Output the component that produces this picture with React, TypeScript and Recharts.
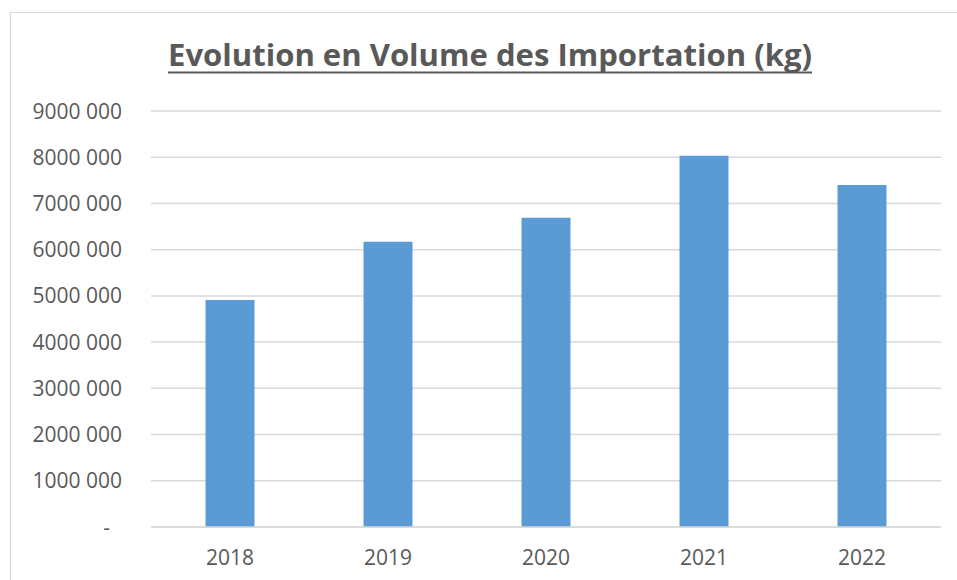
import React from 'react';
import { BarChart, Bar, XAxis, YAxis, CartesianGrid } from 'recharts';

const years = ['2018', '2019', '2020', '2021', '2022'];
const volumes = [4910000, 6170000, 6690000, 8030000, 7400000];
const yTicks = [0, 1000000, 2000000, 3000000, 4000000, 5000000, 6000000, 7000000, 8000000, 9000000];
const title = 'Evolution en Volume des Importation (kg)';

const data = years.map((y, i) => ({ year: y, volume: volumes[i] }));

const FONT = '"Open Sans", "Liberation Sans", sans-serif';
const TEXT = '#595959';

const fmt = (v: number) => {
  if (v === 0) return '-';
  const s = Math.round(v / 1000).toString();
  return s + ' 000';
};

const YTick = (props: any) => {
  const { x, y, payload } = props;
  const v = payload.value;
  if (v === 0) {
    return (
      <text x={x - 41} y={y + 7.5} textAnchor="end" fill={TEXT} fontFamily={FONT} fontSize={21}>-</text>
    );
  }
  return (
    <text x={x - 29} y={y + 7.5} textAnchor="end" fill={TEXT} fontFamily={FONT} fontSize={21}>
      {fmt(v)}
    </text>
  );
};

const XTick = (props: any) => {
  const { x, y, payload } = props;
  return (
    <text x={x} y={y + 38} textAnchor="middle" fill={TEXT} fontFamily={FONT} fontSize={21}>
      {payload.value}
    </text>
  );
};

export default function App() {
  return (
    <div style={{ position: 'absolute', left: 0, top: 0, width: 957, height: 580, overflow: 'hidden', background: '#fff' }}>
      <div style={{ position: 'absolute', left: 10, top: 12, width: 1000, height: 700, border: '1.5px solid #d9d9d9', boxSizing: 'border-box' }} />
      <svg style={{ position: 'absolute', left: 0, top: 0 }} width={957} height={100}>
        <text
          x={168}
          y={66}
          textLength={644}
          lengthAdjust="spacingAndGlyphs"
          fill={TEXT}
          fontFamily={FONT}
          fontWeight="bold"
          fontSize={31}
        >
          {title}
        </text>
        <line x1={168} x2={812} y1={72.5} y2={72.5} stroke={TEXT} strokeWidth={2} />
      </svg>
      <div style={{ position: 'absolute', left: 0, top: 0 }}>
        <BarChart
          width={957}
          height={580}
          data={data}
          margin={{ top: 111, right: 16, bottom: 23, left: 11 }}
          barCategoryGap="34.5%"
        >
          <CartesianGrid vertical={false} stroke="#d9d9d9" strokeWidth={1.5} />
          <XAxis
            dataKey="year"
            height={30}
            tickLine={false}
            tickSize={0}
            tickMargin={0}
            axisLine={{ stroke: '#d9d9d9', strokeWidth: 1.5 }}
            tick={<XTick />}
            interval={0}
          />
          <YAxis
            width={140}
            domain={[0, 9000000]}
            ticks={yTicks}
            interval={0}
            tickLine={false}
            tickSize={0}
            tickMargin={0}
            axisLine={false}
            tick={<YTick />}
          />
          <Bar dataKey="volume" fill="#5b9bd5" isAnimationActive={false} />
        </BarChart>
      </div>
    </div>
  );
}
